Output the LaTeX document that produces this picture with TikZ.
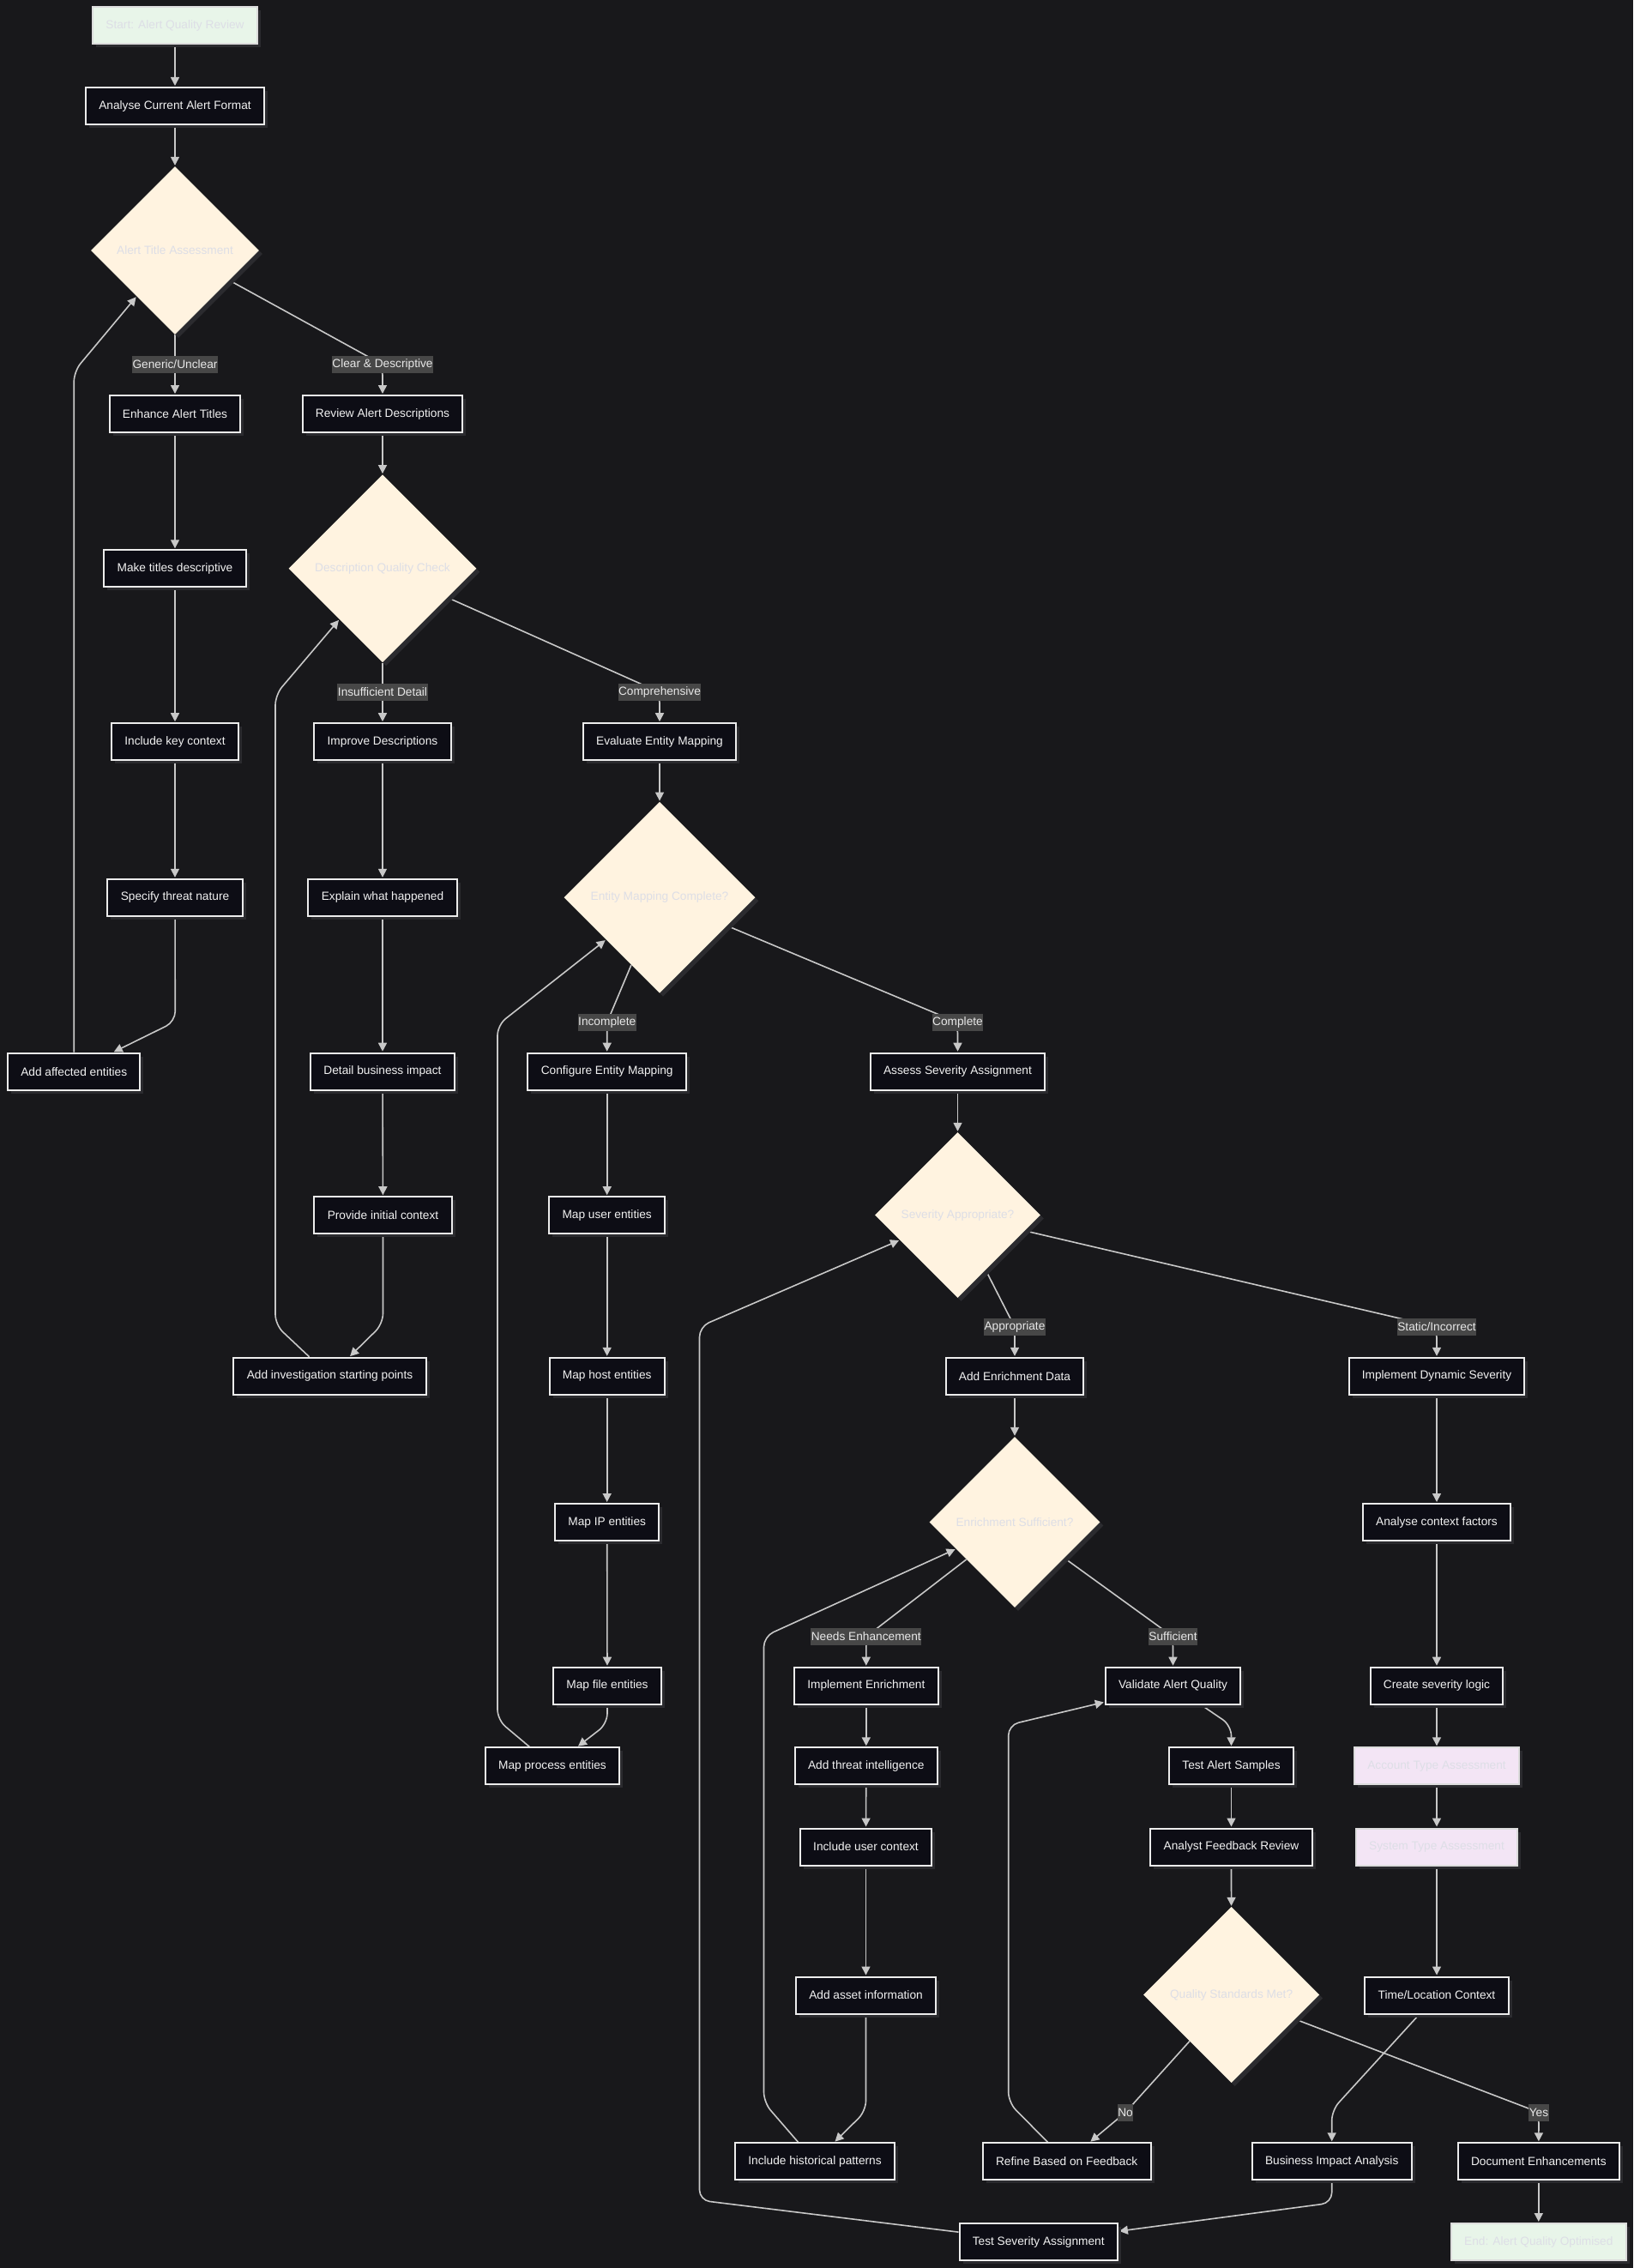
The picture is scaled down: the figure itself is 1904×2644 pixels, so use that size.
\documentclass[tikz,border=0pt]{standalone}
\usepackage{fontspec}
\setmainfont{Liberation Sans}
\usetikzlibrary{shapes.geometric,shadows,arrows.meta}

\definecolor{bgc}{HTML}{18181B}
\definecolor{boxfill}{HTML}{0D0D15}
\definecolor{boxline}{HTML}{ECECEC}
\definecolor{boxtext}{HTML}{F2F2F2}
\definecolor{decfill}{HTML}{FFF3E0}
\definecolor{softtext}{HTML}{DDDEE6}
\definecolor{termfill}{HTML}{E8F5E9}
\definecolor{assessfill}{HTML}{F3E5F5}
\definecolor{softline}{HTML}{DCDCDC}
\definecolor{edgec}{HTML}{C8C8C8}
\definecolor{labfill}{HTML}{474747}
\definecolor{labtext}{HTML}{E8E8E8}
\definecolor{shadowc}{HTML}{2B2B2F}

\pgfdeclarelayer{bglayer}
\pgfdeclarelayer{edgelayer}
\pgfsetlayers{bglayer,edgelayer,main}

\begin{document}
\begin{tikzpicture}[
  x=1pt, y=-1pt,
  font=\fontsize{13.7}{16}\selectfont,
  shade/.style={drop shadow={shadow xshift=4pt, shadow yshift=-4pt, fill=shadowc, opacity=1}},
  box/.style={shade, draw=boxline, line width=2pt, fill=boxfill, text=boxtext,
    minimum height=43pt, inner xsep=15.3pt, inner ysep=0pt},
  terminal/.style={box, fill=termfill, draw=softline, text=softtext},
  assess/.style={box, fill=assessfill, draw=softline, text=softtext},
  decision/.style={shade, diamond, aspect=1, fill=decfill, draw=none, text=softtext, inner sep=0pt},
  edgelab/.style={fill=labfill, text=labtext, inner xsep=0.5pt, inner ysep=0pt, minimum height=20pt},
  edge/.style={draw=edgec, line width=1.6pt, rounded corners=12pt,
    -{Triangle[length=10pt,width=10pt]}, shorten >=1pt}
]
\begin{pgfonlayer}{bglayer}
  \fill[bgc] (0,0) rectangle (1904,2644);
\end{pgfonlayer}
\useasboundingbox (0,0) rectangle (1904,2644);

% ---- steps and decisions ----
\node[terminal] (start) at (204,30) {Start: Alert Quality Review};
\node[box] (acaf) at (204,123.5) {Analyse Current Alert Format};
\node[decision, minimum size=196pt] (d1) at (204,292) {Alert Title Assessment};
\node[box] (eat) at (204,482.5) {Enhance Alert Titles};
\node[box] (rad) at (446,482.5) {Review Alert Descriptions};
\node[box] (mtd) at (204,662.8) {Make titles descriptive};
\node[decision, minimum size=219pt] (d2) at (446,662.8) {Description Quality Check};
\node[box] (ikc) at (204,864.7) {Include key context};
\node[box] (imd) at (446,864.7) {Improve Descriptions};
\node[box] (eem) at (769,864.7) {Evaluate Entity Mapping};
\node[box] (stn) at (204,1046.3) {Specify threat nature};
\node[box] (ewh) at (446,1046.3) {Explain what happened};
\node[decision, minimum size=223pt] (d3) at (769,1046.3) {Entity Mapping Complete?};
\node[box] (aae) at (86.2,1249.2) {Add affected entities};
\node[box] (dbi) at (446,1249.2) {Detail business impact};
\node[box] (cem) at (707.7,1249.2) {Configure Entity Mapping};
\node[box] (asa) at (1116.5,1249.2) {Assess Severity Assignment};
\node[box] (pic) at (446.5,1416.7) {Provide initial context};
\node[box] (mue) at (707.7,1416.7) {Map user entities};
\node[decision, minimum size=193pt] (d4) at (1116.5,1416.5) {Severity Appropriate?};
\node[box] (aisp) at (384.5,1604.3) {Add investigation starting points};
\node[box] (mhe) at (707.7,1604.3) {Map host entities};
\node[box] (aed) at (1183,1604.3) {Add Enrichment Data};
\node[box] (ids) at (1675,1604.3) {Implement Dynamic Severity};
\node[box] (mip) at (707.7,1774.5) {Map IP entities};
\node[decision, minimum size=199pt] (d5) at (1183,1774.5) {Enrichment Sufficient?};
\node[box] (acf) at (1675,1774.5) {Analyse context factors};
\node[box] (mfe) at (708,1965.2) {Map file entities};
\node[box] (ien) at (1009.8,1965.2) {Implement Enrichment};
\node[box] (vaq) at (1367.5,1965.2) {Validate Alert Quality};
\node[box] (csl) at (1675,1965.2) {Create severity logic};
\node[box] (mpe) at (644,2058.8) {Map process entities};
\node[box] (ati) at (1009.8,2058.8) {Add threat intelligence};
\node[box] (tas) at (1435.5,2058.8) {Test Alert Samples};
\node[assess] (ata) at (1675,2058.8) {Account Type Assessment};
\node[box] (iuc) at (1009.5,2153) {Include user context};
\node[box] (afr) at (1435.5,2153) {Analyst Feedback Review};
\node[assess] (sta) at (1675,2153) {System Type Assessment};
\node[box] (aai) at (1009.5,2326) {Add asset information};
\node[decision, minimum size=205pt] (d6) at (1435.6,2325.5) {Quality Standards Met?};
\node[box] (tlc) at (1675,2326) {Time/Location Context};
\node[box] (ihp) at (950,2519.8) {Include historical patterns};
\node[box] (rbf) at (1243.7,2519.8) {Refine Based on Feedback};
\node[box] (bia) at (1552.7,2519.8) {Business Impact Analysis};
\node[box] (den) at (1793.8,2519.8) {Document Enhancements};
\node[box] (tsa) at (1210.7,2613.5) {Test Severity Assignment};
\node[terminal] (finish) at (1793.8,2613.5) {End: Alert Quality Optimised};

% ---- branch labels ----
\node[edgelab] (lGen) at (204,425) {Generic/Unclear};
\node[edgelab] (lClear) at (446,425) {Clear \& Descriptive};
\node[edgelab] (lIns) at (446,807) {Insufficient Detail};
\node[edgelab] (lComp) at (769,807) {Comprehensive};
\node[edgelab] (lInc) at (707.7,1192) {Incomplete};
\node[edgelab] (lCpl) at (1116.5,1192) {Complete};
\node[edgelab] (lApp) at (1183,1547) {Appropriate};
\node[edgelab] (lStat) at (1675,1547) {Static/Incorrect};
\node[edgelab] (lNeed) at (1009.8,1908) {Needs Enhancement};
\node[edgelab] (lSuff) at (1367.5,1908) {Sufficient};
\node[edgelab] (lNo) at (1312,2462.7) {No};
\node[edgelab] (lYes) at (1794,2462.5) {Yes};

% ---- bend points of the routed connectors ----
\coordinate (kStn) at (204.3,1191);
\coordinate (kAae) at (86.2,433);
\coordinate (kPic) at (446.5,1543.3);
\coordinate (kAisp1) at (321,1544.5);
\coordinate (kAisp2) at (321,810);
\coordinate (kMfe) at (708,2009.5);
\coordinate (kMpe1) at (580,2005);
\coordinate (kMpe2) at (580,1195);
\coordinate (kTsa1) at (815.5,2565);
\coordinate (kTsa2) at (815.5,1546.6);
\coordinate (kAai) at (1009.5,2461);
\coordinate (kIhp1) at (890.5,2451);
\coordinate (kIhp2) at (890.5,1907.8);
\coordinate (kRbf1) at (1175.7,2451);
\coordinate (kRbf2) at (1175.7,2011);
\coordinate (kVaq) at (1435.5,2011.5);
\coordinate (kTlc) at (1552.7,2460);
\coordinate (kBia) at (1552.7,2568);

\begin{pgfonlayer}{edgelayer}
% straight runs
\draw[edge] (start) -- (acaf);
\draw[edge] (acaf) -- (d1);
\draw[edge] (eat) -- (mtd);
\draw[edge] (mtd) -- (ikc);
\draw[edge] (ikc) -- (stn);
\draw[edge] (rad) -- (d2);
\draw[edge] (imd) -- (ewh);
\draw[edge] (ewh) -- (dbi);
\draw[edge] (dbi) -- (pic);
\draw[edge] (eem) -- (d3);
\draw[edge] (cem) -- (mue);
\draw[edge] (mue) -- (mhe);
\draw[edge] (mhe) -- (mip);
\draw[edge] (mip) -- (mfe);
\draw[edge] (asa) -- (d4);
\draw[edge] (aed) -- (d5);
\draw[edge] (ids) -- (acf);
\draw[edge] (acf) -- (csl);
\draw[edge] (csl) -- (ata);
\draw[edge] (ata) -- (sta);
\draw[edge] (sta) -- (tlc);
\draw[edge] (ien) -- (ati);
\draw[edge] (ati) -- (iuc);
\draw[edge] (iuc) -- (aai);
\draw[edge] (tas) -- (afr);
\draw[edge] (afr) -- (d6);
\draw[edge] (den) -- (finish);

% decision branches
\draw[edge] (d1) -- (lGen.center) -- (eat);
\draw[edge] (d1) -- (lClear.center) -- (rad);
\draw[edge] (d2) -- (lIns.center) -- (imd);
\draw[edge] (d2) -- (lComp.center) -- (eem);
\draw[edge] (d3) -- (lInc.center) -- (cem);
\draw[edge] (d3) -- (lCpl.center) -- (asa);
\draw[edge] (d4) -- (lApp.center) -- (aed);
\draw[edge] (d4) -- (lStat.center) -- (ids);
\draw[edge] (d5) -- (lNeed.center) -- (ien);
\draw[edge] (d5) -- (lSuff.center) -- (vaq);
\draw[edge] (d6) -- (lNo.center) -- (rbf);
\draw[edge] (d6) -- (lYes.center) -- (den);

% bends and loops back
\draw[edge] (stn) -- (kStn) -- (aae);
\draw[edge] (aae) -- (kAae) -- (d1);
\draw[edge] (pic) -- (kPic) -- (aisp);
\draw[edge] (aisp) -- (kAisp1) -- (kAisp2) -- (d2);
\draw[edge] (mfe) -- (kMfe) -- (mpe);
\draw[edge] (mpe) -- (kMpe1) -- (kMpe2) -- (d3);
\draw[edge] (tsa) -- (kTsa1) -- (kTsa2) -- (d4);
\draw[edge] (aai) -- (kAai) -- (ihp);
\draw[edge] (ihp) -- (kIhp1) -- (kIhp2) -- (d5);
\draw[edge] (rbf) -- (kRbf1) -- (kRbf2) -- (vaq);
\draw[edge] (vaq) -- (kVaq) -- (tas);
\draw[edge] (tlc) -- (kTlc) -- (bia);
\draw[edge] (bia) -- (kBia) -- (tsa);
\end{pgfonlayer}
\end{tikzpicture}
\end{document}
